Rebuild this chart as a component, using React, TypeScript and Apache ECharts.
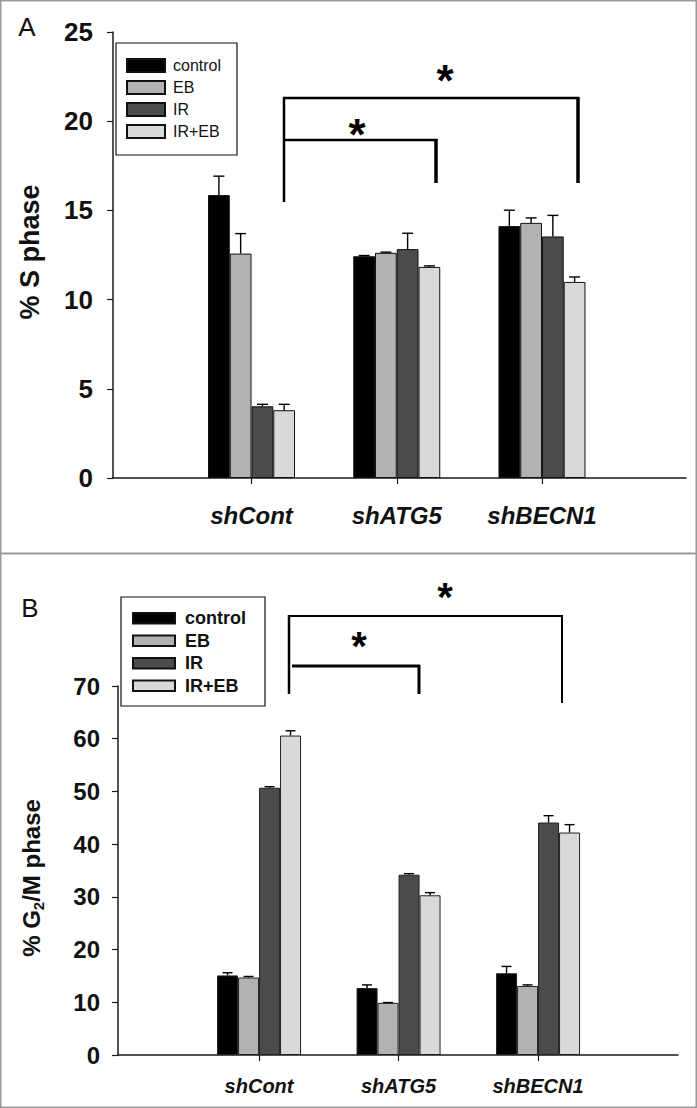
import React, { useEffect, useRef } from "react";
import * as echarts from "echarts";

const categories = ["shCont", "shATG5", "shBECN1"];
const treatments = ["control", "EB", "IR", "IR+EB"];
const treatmentColors = ["#000000", "#b2b2b2", "#4b4b4b", "#d9d9d9"];

// Panel A: % S phase (mean, upper error)
const sControl = [15.86, 12.43, 14.12];
const sEB = [12.58, 12.62, 14.3];
const sIR = [4.02, 12.83, 13.54];
const sIREB = [3.8, 11.83, 10.99];
const sControlErr = [1.06, 0.04, 0.89];
const sEBErr = [1.12, 0.04, 0.28];
const sIRErr = [0.11, 0.89, 1.18];
const sIREBErr = [0.33, 0.06, 0.28];

// Panel B: % G2/M phase (mean, upper error)
const gControl = [15.1, 12.7, 15.5];
const gEB = [14.7, 9.9, 13.1];
const gIR = [50.7, 34.2, 44.1];
const gIREB = [60.6, 30.3, 42.2];
const gControlErr = [0.5, 0.6, 1.3];
const gEBErr = [0.2, 0.05, 0.2];
const gIRErr = [0.2, 0.2, 1.3];
const gIREBErr = [0.9, 0.5, 1.5];

const sMeans = [sControl, sEB, sIR, sIREB];
const sErrs = [sControlErr, sEBErr, sIRErr, sIREBErr];
const gMeans = [gControl, gEB, gIR, gIREB];
const gErrs = [gControlErr, gEBErr, gIRErr, gIREBErr];

const A_BAR_W = 21.75;
const B_BAR_W = 21;
const SANS = "'Liberation Sans', Arial, sans-serif";

function errorRenderer(slot: number, barW: number, capHalf: number) {
  return (_params: any, api: any) => {
    const ci = api.value(0);
    const v = api.value(1);
    const e = api.value(2);
    const p0 = api.coord([ci, v]);
    const p1 = api.coord([ci, v + e]);
    const x = p0[0] + (slot - 1.5) * barW;
    const style = { stroke: "#000", lineWidth: 1.4 };
    return {
      type: "group",
      children: [
        { type: "line", shape: { x1: x, y1: p0[1], x2: x, y2: p1[1] }, style },
        { type: "line", shape: { x1: x - capHalf, y1: p1[1], x2: x + capHalf, y2: p1[1] }, style },
      ],
    };
  };
}

function line(x1: number, y1: number, x2: number, y2: number, w: number) {
  return { type: "line", shape: { x1, y1, x2, y2 }, style: { stroke: "#000", lineWidth: w }, z: 10 };
}

function star(x: number, y: number, size: number) {
  return {
    type: "text",
    x,
    y,
    z: 10,
    style: { text: "*", fontSize: size, fontWeight: "bold", fontFamily: SANS, fill: "#000", align: "center", verticalAlign: "middle" },
  };
}

export default function App() {
  const ref = useRef<HTMLDivElement>(null);

  useEffect(() => {
    if (!ref.current) return;
    const chart = echarts.init(ref.current, undefined, { renderer: "svg" });

    const axisLineStyle = { color: "#1a1a1a", width: 1.5 };

    const series: any[] = [];
    treatments.forEach((name, i) => {
      series.push({
        type: "bar",
        name,
        xAxisIndex: 1,
        yAxisIndex: 1,
        data: sMeans[i],
        barWidth: A_BAR_W,
        barGap: "0%",
        itemStyle: { color: treatmentColors[i], borderColor: "#111", borderWidth: 1 },
      });
    });
    treatments.forEach((_name, i) => {
      series.push({
        type: "custom",
        xAxisIndex: 1,
        yAxisIndex: 1,
        z: 5,
        renderItem: errorRenderer(i, A_BAR_W, 5.5),
        encode: { x: 0, y: 1 },
        data: sMeans[i].map((v, ci) => [ci, v, sErrs[i][ci]]),
      });
    });
    treatments.forEach((name, i) => {
      series.push({
        type: "bar",
        name,
        xAxisIndex: 3,
        yAxisIndex: 3,
        data: gMeans[i],
        barWidth: B_BAR_W,
        barGap: "0%",
        itemStyle: { color: treatmentColors[i], borderColor: "#222", borderWidth: 1 },
      });
    });
    treatments.forEach((_name, i) => {
      series.push({
        type: "custom",
        xAxisIndex: 3,
        yAxisIndex: 3,
        z: 5,
        renderItem: errorRenderer(i, B_BAR_W, 5),
        encode: { x: 0, y: 1 },
        data: gMeans[i].map((v, ci) => [ci, v, gErrs[i][ci]]),
      });
    });

    const frameX = (grid: number) => ({
      gridIndex: grid,
      type: "value",
      min: 0,
      max: 1,
      axisLine: { show: true, lineStyle: axisLineStyle },
      axisTick: { show: false },
      axisLabel: { show: false },
      splitLine: { show: false },
    });

    const catX = (grid: number, size: number, margin: number) => ({
      gridIndex: grid,
      type: "category",
      data: categories,
      axisLine: { show: false },
      axisTick: { show: true, alignWithLabel: true, interval: 0, length: 6, lineStyle: { color: "#1a1a1a", width: 1.2 } },
      axisLabel: {
        interval: 0,
        hideOverlap: false,
        margin,
        color: "#111",
        fontSize: size,
        fontWeight: "bold",
        fontStyle: "italic",
        fontFamily: SANS,
      },
      splitLine: { show: false },
    });

    const valY = (grid: number, max: number, interval: number, size: number, margin: number) => ({
      gridIndex: grid,
      type: "value",
      min: 0,
      max,
      interval,
      axisLine: { show: true, lineStyle: axisLineStyle },
      axisTick: { show: true, length: 6, lineStyle: { color: "#1a1a1a", width: 1.2 } },
      axisLabel: { margin, color: "#111", fontSize: size, fontWeight: "bold", fontFamily: SANS },
      splitLine: { show: false },
    });

    const hiddenY = (grid: number, max: number) => ({
      gridIndex: grid,
      type: "value",
      min: 0,
      max,
      show: false,
      splitLine: { show: false },
    });

    const option: any = {
      animation: false,
      backgroundColor: "#ffffff",
      textStyle: { fontFamily: SANS },
      grid: [
        { left: 113, top: 32, width: 573, height: 446 },
        { left: 178.9, top: 32, width: 435.7, height: 446 },
        { left: 118, top: 686, width: 560, height: 369 },
        { left: 189.3, top: 686, width: 418.5, height: 369 },
      ],
      xAxis: [frameX(0), catX(1, 24, 25), frameX(2), catX(3, 20, 21)],
      yAxis: [valY(0, 25, 5, 26, 20), hiddenY(1, 25), valY(2, 70, 10, 24, 18), hiddenY(3, 70)],
      legend: [
        {
          orient: "vertical",
          left: 126,
          top: 54.5,
          padding: 0,
          itemGap: 0,
          itemWidth: 38,
          itemHeight: 13,
          selectedMode: false,
          icon: "rect",
          data: treatments,
          textStyle: { fontSize: 16, lineHeight: 22, color: "#111", fontFamily: SANS, padding: [0, 0, 0, 3] },
        },
        {
          orient: "vertical",
          left: 132,
          top: 607,
          padding: 0,
          itemGap: 0,
          itemWidth: 42,
          itemHeight: 10.5,
          selectedMode: false,
          icon: "rect",
          data: treatments,
          textStyle: { fontSize: 18, fontWeight: "bold", lineHeight: 22.5, color: "#111", fontFamily: SANS, padding: [0, 0, 0, 5] },
        },
      ],
      graphic: [
        // panel frames
        { type: "rect", shape: { x: 0.75, y: 0.75, width: 695.5, height: 1106.5 }, style: { fill: "none", stroke: "#9a9a9a", lineWidth: 1.5 }, z: 1 },
        { type: "line", shape: { x1: 0, y1: 553.5, x2: 697, y2: 553.5 }, style: { stroke: "#9a9a9a", lineWidth: 2 }, z: 1 },
        // legend boxes
        { type: "rect", shape: { x: 116, y: 43, width: 121, height: 112 }, style: { fill: "none", stroke: "#111", lineWidth: 1.2 }, z: 1 },
        { type: "rect", shape: { x: 121, y: 597, width: 144, height: 109 }, style: { fill: "none", stroke: "#111", lineWidth: 1.2 }, z: 1 },
        // panel letters
        { type: "text", x: 27, y: 27, style: { text: "A", fontSize: 26, fontFamily: SANS, fill: "#111", align: "center", verticalAlign: "middle" } },
        { type: "text", x: 30, y: 608, style: { text: "B", fontSize: 26, fontFamily: SANS, fill: "#111", align: "center", verticalAlign: "middle" } },
        // axis titles
        {
          type: "text",
          x: 29.5,
          y: 252,
          rotation: Math.PI / 2,
          style: { text: "% S phase", fontSize: 27, fontWeight: "bold", fontFamily: SANS, fill: "#111", align: "center", verticalAlign: "middle" },
        },
        {
          type: "text",
          x: 31,
          y: 878,
          rotation: Math.PI / 2,
          style: {
            text: "{a|% G}{s|2}{a|/M phase}",
            align: "center",
            verticalAlign: "middle",
            rich: {
              a: { fontSize: 24, fontWeight: "bold", fontFamily: SANS, fill: "#111", lineHeight: 30 },
              s: { fontSize: 15, fontWeight: "bold", fontFamily: SANS, fill: "#111", lineHeight: 16, verticalAlign: "bottom" },
            },
          },
        },
        // significance brackets, panel A
        line(283, 98, 579, 98, 2.5),
        line(284, 97, 284, 202, 2.5),
        line(578, 97, 578, 183, 3.5),
        line(283, 140, 437.5, 140, 2.5),
        line(436, 139, 436, 183, 3.5),
        star(445, 80, 44),
        star(357, 134, 44),
        // significance brackets, panel B
        line(288, 616, 563, 616, 2),
        line(289, 615, 289, 694, 2.5),
        line(562, 615, 562, 703, 2),
        line(292, 666, 420, 666, 3),
        line(419, 665, 419, 694, 3),
        star(445, 597, 40),
        star(359, 646, 40),
      ],
      series,
    };

    chart.setOption(option);
    return () => chart.dispose();
  }, []);

  return (
    <div
      ref={ref}
      style={{ position: "absolute", left: 0, top: 0, width: 697, height: 1108, background: "#fff" }}
    />
  );
}
